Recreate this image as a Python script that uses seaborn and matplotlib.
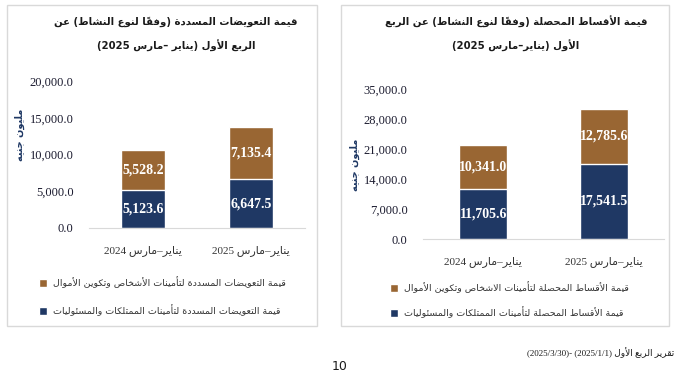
import matplotlib
matplotlib.use("Agg")
import matplotlib.pyplot as plt
from matplotlib.patches import Patch, Rectangle
import pandas as pd
import seaborn as sns

# Data (million EGP)
periods = ["يناير–مارس 2024", "يناير–مارس 2025"]
claims_property = [5123.6, 6647.5]
claims_life = [5528.2, 7135.4]
premiums_property = [11705.6, 17541.5]
premiums_life = [10341.0, 12785.6]

claims_title = "قيمة التعويضات المسددة (وفقاً لنوع النشاط) عن\nالربع الأول (يناير –مارس 2025)"
premiums_title = "قيمة الأقساط المحصلة (وفقاً لنوع النشاط) عن الربع\nالأول (يناير–مارس 2025)"
claims_legend = ["قيمة التعويضات المسددة لتأمينات الأشخاص وتكوين الأموال",
                 "قيمة التعويضات المسددة لتأمينات الممتلكات والمسئوليات"]
premiums_legend = ["قيمة الأقساط المحصلة لتأمينات الاشخاص وتكوين الأموال",
                   "قيمة الأقساط المحصلة لتأمينات الممتلكات والمسئوليات"]
unit_label = "مليون جنيه"
footer = "تقرير الربع الأول (2025/1/1) -(2025/3/30)"
page_no = "10"

claims_ticks = [0, 5000, 10000, 15000, 20000]
premiums_ticks = [0, 7000, 14000, 21000, 28000, 35000]

BROWN = "#996633"
NAVY = "#1F3864"

# --- minimal Arabic shaping + right-to-left ordering (no reshaper libs offline)
DUAL = {'ب': 0xFE8F, 'ت': 0xFE95, 'ث': 0xFE99, 'ج': 0xFE9D, 'ح': 0xFEA1, 'خ': 0xFEA5,
        'س': 0xFEB1, 'ش': 0xFEB5, 'ص': 0xFEB9, 'ض': 0xFEBD, 'ط': 0xFEC1, 'ظ': 0xFEC5,
        'ع': 0xFEC9, 'غ': 0xFECD, 'ف': 0xFED1, 'ق': 0xFED5, 'ك': 0xFED9, 'ل': 0xFEDD,
        'م': 0xFEE1, 'ن': 0xFEE5, 'ه': 0xFEE9, 'ي': 0xFEF1, 'ئ': 0xFE89}
RIGHT = {'ا': 0xFE8D, 'أ': 0xFE83, 'إ': 0xFE87, 'آ': 0xFE81, 'ة': 0xFE93, 'د': 0xFEA9,
         'ذ': 0xFEAB, 'ر': 0xFEAD, 'ز': 0xFEAF, 'و': 0xFEED, 'ى': 0xFEEF, 'ؤ': 0xFE85}
LAMALEF = {'آ': 0xFEF5, 'أ': 0xFEF7, 'إ': 0xFEF9, 'ا': 0xFEFB}
MARKS = set(chr(c) for c in range(0x064B, 0x0653))
MIRROR = {'(': ')', ')': '('}


def ar_line(s):
    toks = []
    for c in s:
        if c in MARKS and toks:
            toks[-1][1] += c
        else:
            toks.append([c, ''])
    out = []
    j = 0
    while j < len(toks):
        c, m = toks[j]
        prev = toks[j - 1][0] if j > 0 else ''
        nxt = toks[j + 1][0] if j + 1 < len(toks) else ''
        jp = prev in DUAL
        if c == 'ل' and nxt in LAMALEF:
            out.append([chr(LAMALEF[nxt] + jp) + m + toks[j + 1][1], 'ar'])
            j += 2
            continue
        if c in DUAL:
            jn = nxt in DUAL or nxt in RIGHT
            form = (3 if jn else 1) if jp else (2 if jn else 0)
            out.append([chr(DUAL[c] + form) + m, 'ar'])
        elif c in RIGHT:
            out.append([chr(RIGHT[c] + jp) + m, 'ar'])
        else:
            out.append([c + m, 'num' if c.isdigit() else 'n'])
        j += 1
    runs = []
    for g, k in out:
        if k == 'num' and runs and runs[-1][1] == 'num':
            runs[-1][0] += g
        elif k == 'num' and len(runs) >= 2 and runs[-1][0] in ('/', '.', ',') and runs[-2][1] == 'num':
            sep = runs.pop()[0]
            runs[-1][0] += sep + g
        else:
            runs.append([g, k])
    return ''.join(t if k == 'num' else MIRROR.get(t, t) for t, k in reversed(runs))


def ar(s):
    return '\n'.join(ar_line(x) for x in s.split('\n'))


sns.set_style("white")
SERIF = ['Liberation Serif', 'DejaVu Sans']
ARAB = ['DejaVu Sans']
plt.rcParams['font.family'] = SERIF

fig = plt.figure(figsize=(6.78, 3.82), dpi=100)

# panel frames
for x0, x1 in [(7, 317), (341, 669)]:
    fig.add_artist(Rectangle((x0 / 678, 1 - 326 / 382), (x1 - x0) / 678, 321 / 382,
                             transform=fig.transFigure, fill=False, edgecolor='#D9D9D9', lw=1))

panels = [
    dict(rect=[89 / 678, 1 - 228 / 382, 216 / 678, 147 / 382], bottom=claims_property, top=claims_life,
         ticks=claims_ticks, title=claims_title, legend=claims_legend, tx=176 / 678,
         ylab=(20 / 678, 1 - 135 / 382), leg=(30 / 678, 1 - 268 / 382), sp=1.7),
    dict(rect=[423 / 678, 1 - 239 / 382, 241 / 678, 150 / 382], bottom=premiums_property, top=premiums_life,
         ticks=premiums_ticks, title=premiums_title, legend=premiums_legend, tx=516 / 678,
         ylab=(355 / 678, 1 - 165 / 382), leg=(381 / 678, 1 - 273 / 382), sp=1.4),
]

for p in panels:
    ax = fig.add_axes(p['rect'])
    df = pd.DataFrame({'period': periods, 'bottom': p['bottom'], 'top': p['top']})
    df['total'] = df['bottom'] + df['top']
    sns.barplot(data=df, x='period', y='total', color=BROWN, width=0.4, saturation=1, ax=ax)
    sns.barplot(data=df, x='period', y='bottom', color=NAVY, width=0.4, saturation=1, ax=ax)

    ax.bar_label(ax.containers[1], labels=[f"{v:,.1f}" for v in df['bottom']], label_type='center',
                 color='white', fontsize=10, fontweight='bold')
    for i, (b, t) in enumerate(zip(df['bottom'], df['top'])):
        ax.text(i, b + t / 2, f"{t:,.1f}", ha='center', va='center', color='white',
                fontsize=10, fontweight='bold')

    ax.set_xlim(-0.5, 1.5)
    ax.set_ylim(p['ticks'][0], p['ticks'][-1])
    ax.set_yticks(p['ticks'])
    ax.set_yticklabels([f"{v:,.1f}" for v in p['ticks']], fontsize=9, color='#1c1c30')
    ax.set_xticks(range(len(periods)))
    ax.set_xticklabels([ar(s) for s in periods], fontsize=8, color='#333333', family=SERIF)
    ax.tick_params(axis='y', length=0, pad=11)
    ax.tick_params(axis='x', length=0, pad=12)
    ax.set_xlabel('')
    ax.set_ylabel('')
    sns.despine(ax=ax, left=True)
    ax.spines['bottom'].set_color('#D9D9D9')
    ax.grid(False)

    fig.text(p['tx'], 1 - 34 / 382, ar(p['title']), ha='center', va='center', fontsize=7.3,
             fontweight='bold', family=ARAB, color='#1a1a1a', linespacing=2.3)
    fig.text(p['ylab'][0], p['ylab'][1], ar(unit_label), rotation=90, ha='center', va='center',
             fontsize=7, fontweight='bold', family=ARAB, color=NAVY)

    handles = [Patch(facecolor=BROWN), Patch(facecolor=NAVY)]
    leg = fig.legend(handles, [ar(s) for s in p['legend']], loc='upper left',
                     bbox_to_anchor=p['leg'], frameon=False, handlelength=0.9, handleheight=0.9,
                     handletextpad=0.6, labelspacing=p['sp'], prop={'family': ARAB, 'size': 6.8})
    for txt in leg.get_texts():
        txt.set_color('#333333')

fig.text(674 / 678, 1 - 353 / 382, ar(footer), ha='right', va='center', fontsize=6.5,
         family=SERIF, color='#1a1a1a')
fig.text(340 / 678, 1 - 366 / 382, page_no, ha='center', va='center', fontsize=9,
         family=['DejaVu Sans'], color='#1a1a1a')

fig.savefig('out.png', dpi=100)
